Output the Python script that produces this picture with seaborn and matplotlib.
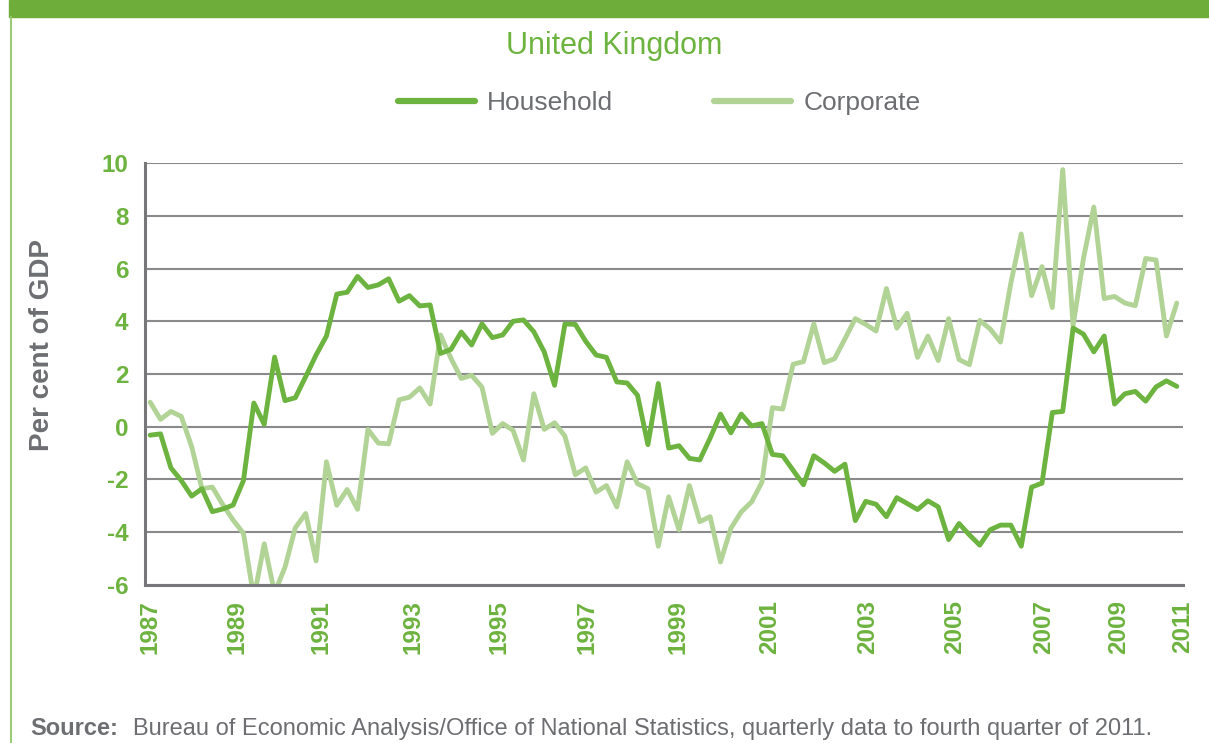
import numpy as np
import pandas as pd
import seaborn as sns
import matplotlib.pyplot as plt
from matplotlib.lines import Line2D
from matplotlib.patches import Rectangle

# quarterly data, 1987 Q1 to 2011 Q4, per cent of GDP
household = [
    -0.32, -0.27, -1.56, -2.04, -2.63, -2.35, -3.22, -3.12, -2.97, -2.04,
    0.90, 0.09, 2.64, 0.99, 1.10, 1.90, 2.72, 3.44, 5.03, 5.10,
    5.70, 5.28, 5.38, 5.61, 4.76, 4.97, 4.58, 4.62, 2.78, 2.93,
    3.59, 3.10, 3.90, 3.38, 3.48, 4.00, 4.05, 3.60, 2.84, 1.57,
    3.90, 3.88, 3.24, 2.72, 2.63, 1.70, 1.66, 1.19, -0.68, 1.64,
    -0.81, -0.72, -1.20, -1.26, -0.43, 0.48, -0.23, 0.48, 0.03, 0.12,
    -1.05, -1.10, -1.65, -2.20, -1.10, -1.37, -1.69, -1.42, -3.56, -2.83,
    -2.94, -3.41, -2.69, -2.91, -3.14, -2.81, -3.04, -4.28, -3.67, -4.10,
    -4.49, -3.91, -3.73, -3.73, -4.53, -2.29, -2.14, 0.54, 0.58, 3.74,
    3.51, 2.84, 3.44, 0.86, 1.25, 1.34, 0.97, 1.51, 1.74, 1.53,
]
corporate = [
    0.93, 0.28, 0.58, 0.39, -0.75, -2.35, -2.29, -2.95, -3.54, -4.04,
    -6.50, -4.44, -6.30, -5.33, -3.83, -3.29, -5.09, -1.33, -2.98, -2.38,
    -3.13, -0.10, -0.62, -0.65, 1.02, 1.12, 1.47, 0.86, 3.48, 2.60,
    1.83, 1.95, 1.50, -0.25, 0.12, -0.14, -1.26, 1.25, -0.10, 0.15,
    -0.36, -1.82, -1.56, -2.48, -2.23, -3.04, -1.33, -2.16, -2.35, -4.53,
    -2.66, -3.91, -2.23, -3.60, -3.41, -5.13, -3.85, -3.23, -2.85, -2.10,
    0.72, 0.67, 2.37, 2.47, 3.90, 2.43, 2.58, 3.33, 4.10, 3.88,
    3.63, 5.24, 3.74, 4.30, 2.63, 3.44, 2.51, 4.10, 2.55, 2.35,
    4.03, 3.71, 3.21, 5.45, 7.31, 4.97, 6.07, 4.52, 9.75, 3.83,
    6.38, 8.33, 4.86, 4.94, 4.69, 4.59, 6.38, 6.32, 3.44, 4.69,
]
year_labels = ['1987', '1989', '1991', '1993', '1995', '1997', '1999',
               '2001', '2003', '2005', '2007', '2009', '2011']
# where the original chart puts its year labels, in quarters from 1987 Q1
year_label_pos = [0, 8.4, 16.5, 25.3, 33.6, 42.1, 50.9, 59.7, 69.2, 77.6, 86.2, 93.4, 99.6]
y_ticks = [-6, -4, -2, 0, 2, 4, 6, 8, 10]

dark_green = '#6DB33F'
light_green = '#B2D396'
grey_text = '#6D6E71'

df = pd.DataFrame({
    'quarter': np.arange(len(household)),
    'Household': household,
    'Corporate': corporate,
}).melt(id_vars='quarter', var_name='sector', value_name='pct')

sns.set_style('white')
plt.rcParams['font.family'] = ['Liberation Sans', 'DejaVu Sans']

fig = plt.figure(figsize=(12.09, 7.43), dpi=100)
ax = fig.add_axes([0.1199, 0.2127, 0.9785 - 0.1199, 0.7806 - 0.2127])

sns.lineplot(data=df, x='quarter', y='pct', hue='sector',
             hue_order=['Corporate', 'Household'],
             palette={'Household': dark_green, 'Corporate': light_green},
             linewidth=3.5, legend=False, ax=ax, solid_joinstyle='round')

ax.set_xlim(-0.5, 99.5)
ax.set_ylim(-6, 10)
ax.set_yticks(y_ticks)
ax.set_yticklabels([str(t) for t in y_ticks], color=dark_green,
                   fontsize=17.5, fontweight='bold')
ax.set_xticks(year_label_pos)
ax.set_xticklabels(year_labels, rotation=90, color=dark_green,
                   fontsize=17.5, fontweight='bold')
ax.tick_params(axis='both', length=0)
ax.tick_params(axis='x', pad=11)
ax.tick_params(axis='y', pad=12)
ax.set_xlabel('')
ax.set_ylabel('')

ax.grid(axis='y', color='#8A8A8C', linewidth=1.5)
ax.grid(axis='x', visible=False)
for side in ['top', 'right']:
    ax.spines[side].set_visible(False)
for side in ['left', 'bottom']:
    ax.spines[side].set_color('#77777A')
    ax.spines[side].set_linewidth(2.2)
ax.set_axisbelow(True)

fig.text(42 / 1209, 1 - 345 / 743, 'Per cent of GDP', color=grey_text,
         fontsize=20, fontweight='bold', rotation=90, ha='center', va='center')

# green banner along the top and thin rule on the left
fig.patches.append(Rectangle((9 / 1209, 1 - 17 / 743), 1, 17 / 743,
                             transform=fig.transFigure, color='#6EAD3A', zorder=0))
fig.add_artist(Line2D([11 / 1209, 11 / 1209], [0, 1 - 17 / 743],
                      transform=fig.transFigure, color='#9CCB78', linewidth=1.5))

fig.text(614 / 1209, 1 - 46 / 743, 'United Kingdom', color=dark_green, fontsize=22,
         ha='center', va='center')

handles = [Line2D([], [], color=dark_green, linewidth=4.5, solid_capstyle='round'),
           Line2D([], [], color=light_green, linewidth=4.5, solid_capstyle='round')]
fig.legend(handles, ['Household', 'Corporate'], loc='center',
           bbox_to_anchor=(659 / 1209, 1 - 103 / 743), ncol=2, frameon=False,
           fontsize=19, labelcolor=grey_text, handlelength=2.95,
           handletextpad=0.45, columnspacing=3.8)

fig.text(30 / 1209, 1 - 735 / 743, 'Source:', color=grey_text, fontsize=17,
         fontweight='bold', va='baseline')
fig.text(133 / 1209, 1 - 735 / 743,
         'Bureau of Economic Analysis/Office of National Statistics, quarterly data to fourth quarter of 2011.',
         color=grey_text, fontsize=17, va='baseline')

fig.savefig('out.png', dpi=100)
